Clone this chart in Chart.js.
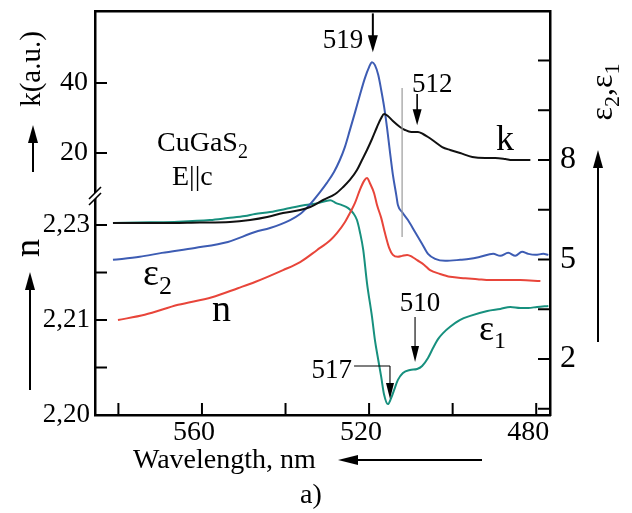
<!DOCTYPE html>
<html>
<head>
<meta charset="utf-8">
<script src="https://cdn.jsdelivr.net/npm/chart.js@4/dist/chart.umd.min.js"></script>
<style>
html,body{margin:0;padding:0;background:#fff;}
#wrap{width:632px;height:513px;}
</style>
</head>
<body>
<div id="wrap"><canvas id="c" width="632" height="513"></canvas></div>
<script>
// ---------- data (wavelength in nm) ----------
const kWl  = [581.3,570.1,560.5,553.3,548.5,544.4,540.6,536.5,534.1,531.0,528.1,526.2,524.6,522.9,521.7,520.5,519.3,518.1,517.1,516.4,515.5,514.3,512.6,511.4,509.9,508.3,507.1,505.9,504.2,502.5,500.6,498.2,495.3,492.2,489.8,487.4,485.8,483.8,481.4];
const kVal = [0,0,0.14,0.29,0.86,1.71,2.86,3.71,4.57,6.57,8.29,10.29,12.29,15.14,18.0,20.86,24.0,27.43,30.0,31.14,30.57,29.14,27.43,26.57,26.0,26.0,25.43,24.57,23.14,21.71,20.86,20.0,18.86,18.57,18.57,18.29,18.0,18.0,18.0];

const e2Wl  = [581.3,574.9,569.6,561.7,553.8,547.3,543.7,538.9,536.5,534.1,531.7,530.1,528.4,527.0,525.8,524.6,523.4,522.2,521.0,520.0,519.3,518.6,517.8,517.1,516.4,515.7,515.0,514.3,513.5,513.1,512.1,510.7,509.0,507.3,505.9,504.2,501.8,498.2,495.8,493.4,490.3,488.6,486.7,485.0,483.4,481.9,480.2,478.3,477.1];
const e2Val = [4.99,5.08,5.20,5.35,5.53,5.83,5.95,6.19,6.37,6.67,7.04,7.31,7.64,8.00,8.39,8.90,9.42,9.96,10.47,10.80,10.95,10.86,10.56,10.11,9.60,8.97,8.24,7.55,6.95,6.64,6.43,6.19,5.83,5.47,5.17,5.02,4.96,4.99,5.02,5.08,5.17,5.11,5.20,5.11,5.23,5.17,5.14,5.17,5.14];

const nWl  = [580.1,573.7,565.7,557.6,551.4,547.3,540.6,536.5,532.5,529.3,527.7,525.8,524.6,523.4,522.2,521.2,520.5,519.8,518.8,518.1,517.1,516.2,515.2,514.3,513.1,512.1,510.9,509.7,508.5,506.8,505.4,503.0,500.6,497.0,494.1,491.0,487.4,483.8,479.0];
const nVal = [2.2100,2.2111,2.2132,2.2148,2.2167,2.2180,2.2205,2.2222,2.2247,2.2268,2.2283,2.2306,2.2325,2.2346,2.2374,2.2393,2.2399,2.2388,2.2367,2.2342,2.2315,2.2283,2.2252,2.2237,2.2233,2.2235,2.2237,2.2233,2.2226,2.2216,2.2205,2.2197,2.2191,2.2188,2.2186,2.2184,2.2184,2.2184,2.2182];

const e1Wl  = [581.3,572.5,565.7,558.1,553.8,549.7,547.3,543.7,538.9,535.3,532.2,529.3,527.9,526.5,525.0,523.8,522.9,522.2,521.4,520.5,519.3,518.6,517.8,517.1,516.4,515.5,514.7,514.0,513.1,511.9,510.2,508.5,507.3,505.9,504.7,503.5,502.3,500.6,498.2,495.8,491.7,488.6,486.2,483.8,481.9,479.8,477.1];
const e1Val = [6.10,6.12,6.14,6.19,6.25,6.31,6.37,6.43,6.55,6.64,6.70,6.79,6.70,6.64,6.55,6.40,6.19,5.83,5.29,4.29,3.27,2.57,1.97,1.46,0.92,0.64,0.83,1.07,1.37,1.58,1.67,1.70,1.79,2.03,2.33,2.60,2.78,2.97,3.18,3.30,3.45,3.51,3.57,3.54,3.54,3.57,3.60];

// ---------- ticks ----------
const xTickValues = [480,500,520,540,560,580];
const xTickLabels = ['480','','520','','560',''];
const kTickValues = [20,40];
const kTickLabels = ['20','40'];
const nTickValues = [2.19,2.20,2.21,2.22,2.23];
const nTickLabels = ['2,20','','2,21','','2,23'];
const eTickValues = [0.5,2,3.5,5,6.5,8,9.5,11];
const eTickLabels = ['','2','','5','','8','',''];

const F = '"Liberation Serif","Times New Roman",serif';
const pts = (xs, ys) => xs.map((x, i) => ({x: x, y: ys[i]}));

function setTicks(values){ return s => { s.ticks = values.map(v => ({value: v})); }; }
function labelFrom(values, labels){ return v => { const i = values.findIndex(t => Math.abs(t - v) < 1e-9); return i < 0 ? '' : labels[i]; }; }

const border = {display: true, color: '#000', width: 2.5};
const noGrid = {display: false, drawTicks: false};

function runs(ctx, x, y, parts, align){
  let w = 0;
  parts.forEach(p => { ctx.font = p.s + 'px ' + F; p.w = ctx.measureText(p.t).width; w += p.w; });
  let cx = align === 'center' ? x - w/2 : (align === 'right' ? x - w : x);
  parts.forEach(p => { ctx.font = p.s + 'px ' + F; ctx.fillText(p.t, cx, y + (p.dy || 0)); cx += p.w; });
}
function arrow(ctx, x1, y1, x2, y2, lw, hl, hw){
  const dx = x2 - x1, dy = y2 - y1, L = Math.hypot(dx, dy), ux = dx/L, uy = dy/L;
  const bx = x2 - ux*hl, by = y2 - uy*hl;
  ctx.lineWidth = lw;
  ctx.beginPath(); ctx.moveTo(x1, y1); ctx.lineTo(bx + ux*1, by + uy*1); ctx.stroke();
  ctx.beginPath(); ctx.moveTo(x2, y2); ctx.lineTo(bx - uy*hw/2, by + ux*hw/2); ctx.lineTo(bx + uy*hw/2, by - ux*hw/2); ctx.closePath(); ctx.fill();
}

const deco = {
  id: 'deco',
  afterDraw(chart){
    const ctx = chart.ctx, X = chart.scales.x, E = chart.scales.yE, K = chart.scales.yK, N = chart.scales.yN;
    const px = v => X.getPixelForValue(v), pe = v => E.getPixelForValue(v);
    ctx.save();
    ctx.strokeStyle = '#000'; ctx.fillStyle = '#000'; ctx.lineWidth = 2;
    const seg = (a,b,c,d) => { ctx.beginPath(); ctx.moveTo(a,b); ctx.lineTo(c,d); ctx.stroke(); };
    // inward tick marks
    X.ticks.forEach(t => { const p = X.getPixelForValue(t.value); seg(p, X.top, p, X.top - 12); });
    [K, N].forEach(s => s.ticks.forEach(t => { const p = s.getPixelForValue(t.value); if (p < 413) seg(s.right, p, s.right + 12, p); }));
    E.ticks.forEach(t => { const p = E.getPixelForValue(t.value); seg(E.left, p, E.left - 12, p); });
    // axis break
    const y0 = K.bottom, ax = K.right;
    ctx.fillStyle = '#fff';
    ctx.beginPath(); ctx.moveTo(ax-6, y0+4); ctx.lineTo(ax+6, y0-8); ctx.lineTo(ax+6, y0-2); ctx.lineTo(ax-6, y0+10); ctx.closePath(); ctx.fill();
    ctx.fillStyle = '#000'; ctx.lineWidth = 1.6;
    seg(ax-6, y0+4, ax+6, y0-8); seg(ax-6, y0+10, ax+6, y0-2);

    // gray vertical marker line
    ctx.strokeStyle = '#9a9a9a'; ctx.lineWidth = 1.2;
    seg(px(512.1), pe(10.17), px(512.1), pe(5.68));
    ctx.strokeStyle = '#000';

    // peak annotations
    arrow(ctx, px(519.1), pe(12.42), px(519.1), pe(11.25), 2, 17, 10);
    arrow(ctx, px(508.5), pe(9.99), px(508.5), pe(9.05), 1.6, 16, 9);
    arrow(ctx, px(509.0), pe(3.27), px(509.0), pe(1.91), 1.1, 16, 8);
    ctx.lineWidth = 1.1;
    seg(px(523.6), pe(1.79), px(515.0), pe(1.79));
    arrow(ctx, px(515.0), pe(1.79), px(515.0), pe(0.795), 1.1, 16, 8);

    ctx.textBaseline = 'alphabetic'; ctx.textAlign = 'left';
    runs(ctx, px(521.4), pe(11.37), [{t:'519', s:27}], 'right');
    runs(ctx, px(504.9), pe(10.05), [{t:'512', s:27}], 'center');
    runs(ctx, px(507.8), pe(3.45), [{t:'510', s:27}], 'center');
    runs(ctx, px(524.1), pe(1.43), [{t:'517', s:27}], 'right');

    // curve labels
    runs(ctx, 157, 151, [{t:'CuGaS', s:28}, {t:'2', s:20, dy:7}], 'left');
    runs(ctx, 172, 185, [{t:'E||c', s:28}], 'left');
    runs(ctx, 143, 285, [{t:'ε', s:38}, {t:'2', s:26, dy:9}], 'left');
    runs(ctx, 212, 321, [{t:'n', s:38}], 'left');
    runs(ctx, 496, 150, [{t:'k', s:36}], 'left');
    runs(ctx, 479, 340, [{t:'ε', s:36}, {t:'1', s:24, dy:8}], 'left');

    // axis titles
    runs(ctx, 133, 468, [{t:'Wavelength, nm', s:28}], 'left');
    runs(ctx, 300, 503, [{t:'a)', s:28}], 'left');
    ctx.strokeStyle = '#000'; ctx.fillStyle = '#000';
    arrow(ctx, 482, 460, 338, 460, 2, 20, 10);

    // rotated left titles
    ctx.save(); ctx.translate(40, 69); ctx.rotate(-Math.PI/2);
    runs(ctx, 0, 0, [{t:'k(a.u.)', s:29}], 'center'); ctx.restore();
    arrow(ctx, 33, 172, 33, 125, 2, 18, 10);
    ctx.save(); ctx.translate(39, 248); ctx.rotate(-Math.PI/2);
    runs(ctx, 0, 0, [{t:'n', s:36}], 'center'); ctx.restore();
    arrow(ctx, 30, 390, 30, 272, 2, 18, 10);

    // rotated right title
    ctx.save(); ctx.translate(612, 92); ctx.rotate(-Math.PI/2);
    runs(ctx, 0, 0, [{t:'ε', s:32}, {t:'2', s:22, dy:7}, {t:',', s:32}, {t:'ε', s:32}, {t:'1', s:22, dy:7}], 'center'); ctx.restore();
    arrow(ctx, 598, 342, 598, 150, 2, 18, 10);
    ctx.restore();
  }
};

function fixW(w){ return s => { s.width = w; s.paddingTop = 0; s.paddingBottom = 0; s.paddingLeft = 0; s.paddingRight = 0; }; }
function fixH(h){ return s => { s.height = h; s.paddingTop = 0; s.paddingBottom = 0; s.paddingLeft = 0; s.paddingRight = 0; }; }

const line = (label, xs, ys, color, axis) => ({
  label, data: pts(xs, ys), yAxisID: axis, xAxisID: 'x',
  borderColor: color, borderWidth: 2, pointRadius: 0, fill: false,
  cubicInterpolationMode: 'monotone', clip: false
});

new Chart(document.getElementById('c'), {
  type: 'line',
  data: {
    datasets: [
      line('k', kWl, kVal, '#111111', 'yK'),
      line('ε2', e2Wl, e2Val, '#3d5cb3', 'yE'),
      line('n', nWl, nVal, '#e8453a', 'yN'),
      line('ε1', e1Wl, e1Val, '#17907e', 'yE')
    ]
  },
  options: {
    responsive: false, animation: false, devicePixelRatio: 1, events: [],
    layout: {padding: {top: 11, left: 0, right: 0, bottom: 0}},
    plugins: {legend: {display: false}, tooltip: {enabled: false}},
    scales: {
      x: {
        type: 'linear', position: 'bottom', reverse: true, min: 476.7, max: 585.6,
        grid: noGrid, border: border,
        afterBuildTicks: setTicks(xTickValues), afterFit: fixH(98),
        ticks: {autoSkip: false, maxRotation: 0, padding: 1, labelOffset: -8, color: '#000', font: {family: F, size: 28},
          callback: labelFrom(xTickValues, xTickLabels)}
      },
      xTop: {
        type: 'linear', position: 'top', min: 0, max: 1,
        grid: noGrid, border: border, afterFit: fixH(0),
        ticks: {display: false}
      },
      yN: {
        type: 'linear', position: 'left', stack: 'left', stackWeight: 220, min: 2.19, max: 2.23632,
        grid: noGrid, border: border,
        afterBuildTicks: setTicks(nTickValues), afterFit: fixW(95),
        ticks: {autoSkip: false, padding: 5, color: '#000', font: {family: F, size: 27},
          callback: labelFrom(nTickValues, nTickLabels)}
      },
      yK: {
        type: 'linear', position: 'left', stack: 'left', stackWeight: 184, min: 8, max: 60.57,
        grid: noGrid, border: border,
        afterBuildTicks: setTicks(kTickValues), afterFit: fixW(95),
        ticks: {autoSkip: false, padding: 7, color: '#000', font: {family: F, size: 28},
          callback: labelFrom(kTickValues, kTickLabels)}
      },
      yE: {
        type: 'linear', position: 'right', min: 0.312, max: 12.492,
        grid: noGrid, border: border,
        afterBuildTicks: setTicks(eTickValues), afterFit: fixW(82),
        ticks: {autoSkip: false, padding: 10, color: '#000', font: {family: F, size: 32},
          callback: labelFrom(eTickValues, eTickLabels)}
      }
    }
  },
  plugins: [deco]
});
</script>
</body>
</html>
